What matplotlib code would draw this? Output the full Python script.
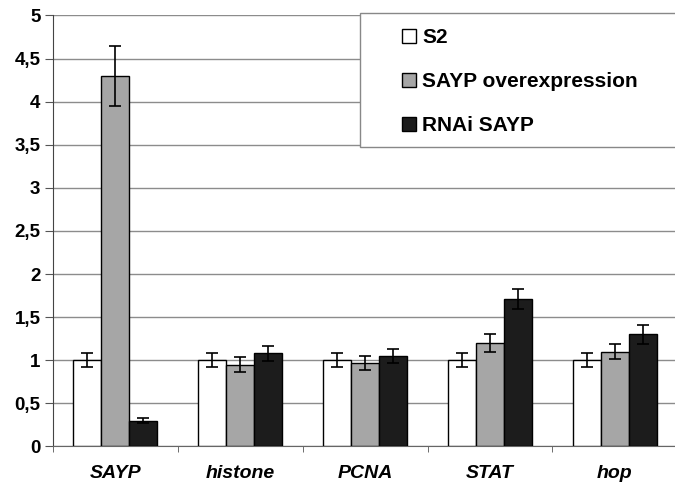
import numpy as np
from matplotlib import pyplot as plt
from matplotlib.patches import Rectangle
from matplotlib.ticker import FuncFormatter

genes = ["SAYP", "histone", "PCNA", "STAT", "hop"]
series = ["S2", "SAYP overexpression", "RNAi SAYP"]
s2 = [1.0, 1.0, 1.0, 1.0, 1.0]
s2_err = [0.08, 0.08, 0.08, 0.08, 0.08]
over = [4.3, 0.95, 0.97, 1.2, 1.1]
over_err = [0.35, 0.085, 0.085, 0.1, 0.085]
rnai = [0.3, 1.08, 1.05, 1.71, 1.3]
rnai_err = [0.03, 0.085, 0.085, 0.12, 0.11]

plt.rcParams['font.family'] = ['Liberation Sans', 'DejaVu Sans']

fig = plt.figure(figsize=(6.75, 4.84), dpi=100)
ax = fig.add_axes([0.0785, 0.0775, 0.925, 0.8905])

x = np.arange(len(genes))
w = 0.224
colors = ["white", "#a6a6a6", "#1c1c1c"]
vals = [s2, over, rnai]
errs = [s2_err, over_err, rnai_err]
for i in range(3):
    ax.bar(x + (i - 1) * w, vals[i], w, color=colors[i], edgecolor="black",
           linewidth=1, label=series[i], zorder=3,
           yerr=errs[i], error_kw=dict(ecolor="black", elinewidth=1.2,
                                       capsize=4, capthick=1.2, zorder=4))

ax.set_xlim(-0.5, len(genes) - 0.5)
ax.set_ylim(0, 5)
ax.set_yticks(np.arange(0, 5.01, 0.5))
ax.yaxis.set_major_formatter(FuncFormatter(lambda v, p: ("%g" % v).replace(".", ",")))
ax.grid(axis="y", color="#8c8c8c", linewidth=1, zorder=0)
for lab in ax.get_yticklabels():
    lab.set_fontweight("bold")
    lab.set_fontsize(13.5)

ax.set_xticks(x)
ax.set_xticklabels(genes, fontsize=14, fontweight="bold", fontstyle="italic")
ax.set_xticks(np.arange(-0.5, len(genes), 1), minor=True)
ax.tick_params(axis="x", which="major", length=0, pad=13)
ax.tick_params(axis="x", which="minor", length=4, color="#555555")
ax.tick_params(axis="y", length=6, color="#555555", pad=3)

ax.spines["top"].set_visible(False)
ax.spines["right"].set_visible(False)
ax.spines["left"].set_color("#444444")
ax.spines["bottom"].set_color("#666666")

# legend box running off the right edge
box = Rectangle((360 / 675, 1 - 147 / 484), 0.5, (147 - 13) / 484,
                transform=fig.transFigure, facecolor="white", edgecolor="#888888",
                linewidth=1, clip_on=False, zorder=5)
ax.add_artist(box)
leg = ax.legend(loc="upper left", bbox_to_anchor=(402 / 675, 1 - 28 / 484),
                bbox_transform=fig.transFigure, prop=dict(weight="bold", size=15),
                frameon=False, handlelength=0.67, handleheight=0.67,
                handletextpad=0.3, labelspacing=1.2, borderpad=0, borderaxespad=0)
leg.set_zorder(6)

fig.savefig("out.png", dpi=100)
